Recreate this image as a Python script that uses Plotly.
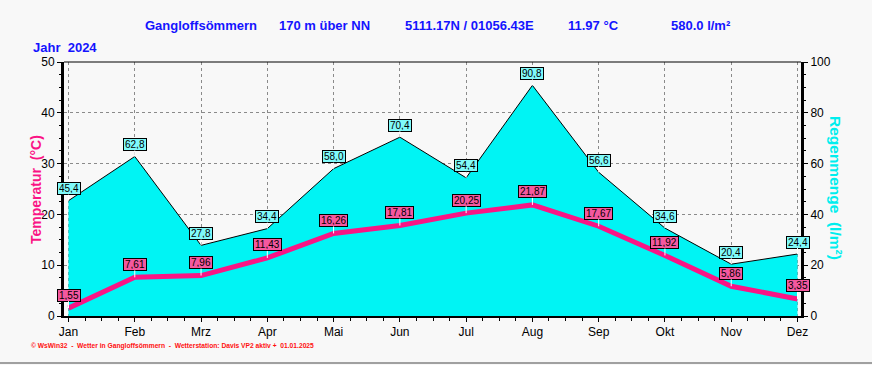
import plotly.graph_objects as go

months = ["Jan", "Feb", "Mrz", "Apr", "Mai", "Jun", "Jul", "Aug", "Sep", "Okt", "Nov", "Dez"]
rain = [45.4, 62.8, 27.8, 34.4, 58.0, 70.4, 54.4, 90.8, 56.6, 34.6, 20.4, 24.4]
temp = [1.55, 7.61, 7.96, 11.43, 16.26, 17.81, 20.25, 21.87, 17.67, 11.92, 5.86, 3.35]
temp_ticks = [0, 10, 20, 30, 40, 50]
rain_ticks = [0, 20, 40, 60, 80, 100]

W, H = 872, 365
L, R, T, B = 64, 71, 62, 49
PW = W - L - R
PH = H - T - B

def px(x):
    return (x - L) / PW

def py(y):
    return (H - B - y) / PH

BLUE = "#1414ff"
PINK = "#fa1485"
CYAN = "#00f4f4"
FONT = "Liberation Sans, Arial, sans-serif"
GRID = "#8a8a8a"

xs = list(range(len(months)))

fig = go.Figure()
fig.add_trace(go.Scatter(
    x=xs, y=rain, yaxis="y", mode="lines", fill="tozeroy",
    fillcolor=CYAN, line=dict(color="black", width=1), hoverinfo="skip"))
fig.add_trace(go.Scatter(
    x=xs, y=temp, yaxis="y2", mode="lines",
    line=dict(color=PINK, width=5), hoverinfo="skip"))

ann = []
for i, v in enumerate(rain):
    ann.append(dict(x=i, y=v, xref="x", yref="y", text=f"{v:.1f}".replace(".", ","),
                    showarrow=True, arrowhead=0, arrowwidth=1, arrowcolor="white",
                    ax=0, ay=-12, bgcolor="#7ffafa", bordercolor="black", borderwidth=1,
                    borderpad=1, height=9,
                    font=dict(family=FONT, size=10, color="black")))
for i, v in enumerate(temp):
    ann.append(dict(x=i, y=v, xref="x", yref="y2", text=f"{v:.2f}".replace(".", ","),
                    showarrow=True, arrowhead=0, arrowwidth=1, arrowcolor="white",
                    ax=0, ay=-13, bgcolor="#f4589f", bordercolor="black", borderwidth=1,
                    borderpad=1, height=9,
                    font=dict(family=FONT, size=10, color="black")))

titles = [("Gangloffsömmern", 143), ("170 m über NN", 277), ("5111.17N / 01056.43E", 403),
          ("11.97 °C", 566), ("580.0 l/m²", 669)]
for t, x0 in titles:
    ann.append(dict(x=px(x0), y=py(25), xref="paper", yref="paper", text=f"<b>{t}</b>",
                    showarrow=False, xanchor="left", yanchor="middle",
                    font=dict(family=FONT, size=13, color=BLUE)))
ann.append(dict(x=px(31), y=py(47), xref="paper", yref="paper", text="<b>Jahr  2024</b>",
                showarrow=False, xanchor="left", yanchor="middle",
                font=dict(family=FONT, size=13, color=BLUE)))
ann.append(dict(x=px(36), y=py(190), xref="paper", yref="paper", text="<b>Temperatur  (°C)</b>",
                showarrow=False, xanchor="center", yanchor="middle", textangle=-90,
                font=dict(family=FONT, size=14, color=PINK)))
ann.append(dict(x=px(836), y=py(188), xref="paper", yref="paper", text="<b>Regenmenge  (l/m²)</b>",
                showarrow=False, xanchor="center", yanchor="middle", textangle=90,
                font=dict(family=FONT, size=15.5, color="#00eeee")))
ann.append(dict(x=px(29), y=py(346), xref="paper", yref="paper",
                text="<b>© WsWin32  -  Wetter in Gangloffsömmern  -  Wetterstation: Davis VP2 aktiv +  01.01.2025</b>",
                showarrow=False, xanchor="left", yanchor="middle",
                font=dict(family=FONT, size=6.7, color="#ff1010")))

shapes = [
    dict(type="line", xref="paper", yref="paper", x0=0, x1=1, y0=1, y1=1,
         line=dict(color="black", width=1)),
    dict(type="line", xref="paper", yref="paper", x0=px(0), x1=px(W), y0=py(363), y1=py(363),
         line=dict(color="#a0a0a0", width=2)),
]

x0 = -(69 - 64.5) / 66.18
x1 = 11 + (800.5 - 797) / 66.18

fig.update_layout(
    width=W, height=H, margin=dict(l=L, r=R, t=T, b=B),
    paper_bgcolor="#f8f8f8", plot_bgcolor="#f8f8f8", showlegend=False,
    font=dict(family=FONT, size=12, color="black"),
    xaxis=dict(range=[x0, x1], tickvals=xs, ticktext=months, showgrid=True,
               gridcolor=GRID, griddash="3px,3px", gridwidth=1, zeroline=False,
               showline=True, linecolor="black", linewidth=2, ticks="outside",
               ticklen=4, tickcolor="black",
               minor=dict(dtick=0.25, tick0=0, ticks="outside", ticklen=3, tickcolor="black", showgrid=False),
               tickfont=dict(size=12)),
    yaxis=dict(range=[0, 100], side="right", tickvals=rain_ticks, showgrid=True,
               gridcolor=GRID, griddash="3px,3px", gridwidth=1, zeroline=False,
               showline=True, linecolor="black", linewidth=3, ticks="outside",
               ticklen=4, tickcolor="black",
               minor=dict(dtick=5, tick0=0, ticks="outside", ticklen=2, tickcolor="black", showgrid=False),
               tickfont=dict(size=12)),
    yaxis2=dict(range=[0, 50], side="left", overlaying="y", tickvals=temp_ticks,
                showgrid=False, zeroline=False, showline=True, linecolor="black", linewidth=3,
                ticks="outside", ticklen=4, tickcolor="black",
                minor=dict(dtick=2.5, tick0=0, ticks="outside", ticklen=2, tickcolor="black"),
                tickfont=dict(size=12)),
    annotations=ann, shapes=shapes,
)

fig.write_html("out.html", config={"displayModeBar": False},
               post_script="document.body.style.margin='0';document.body.style.padding='0';document.body.style.overflow='hidden';")
